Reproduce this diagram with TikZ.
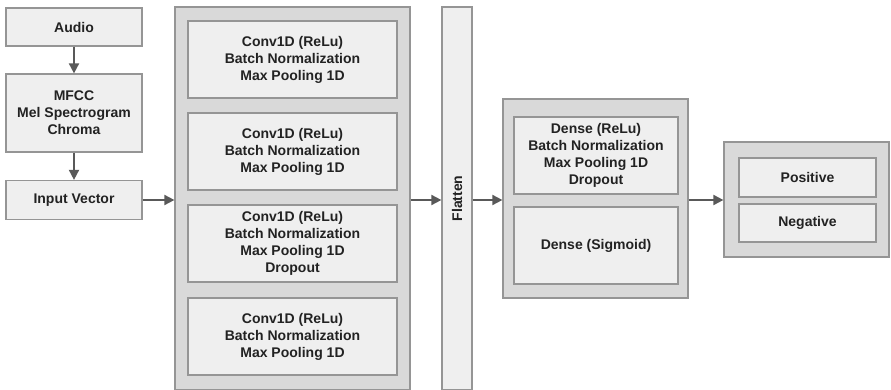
\documentclass[tikz,border=0pt]{standalone}
\usepackage{fontspec}
\setmainfont{Liberation Sans}
\usetikzlibrary{arrows.meta}

\definecolor{boxfill}{HTML}{EFEFEF}
\definecolor{groupfill}{HTML}{D9D9D9}
\definecolor{boxline}{HTML}{959595}
\definecolor{arrowcol}{HTML}{595959}
\definecolor{textcol}{HTML}{222222}

\tikzset{
  layer/.style={draw=boxline, line width=1.2pt, fill=boxfill, inner sep=0pt,
    align=center, text=textcol, font=\fontsize{14}{17}\selectfont\bfseries},
  group/.style={draw=boxline, line width=1.2pt, fill=groupfill, inner sep=0pt},
  flow/.style={-{Triangle[length=10pt,width=10pt]}, draw=arrowcol, line width=1.8pt}
}

\begin{document}
\begin{tikzpicture}[x=1pt,y=-1pt]
  \useasboundingbox (0,0) rectangle (891,390);

  % input features
  \node[layer, minimum width=136pt, minimum height=38pt] (audio) at (74,27) {Audio};
  \node[layer, minimum width=136pt, minimum height=78pt] (feat) at (74,113) {MFCC\\Mel Spectrogram\\Chroma};
  \node[layer, minimum width=136pt, minimum height=39pt] (input) at (74,200) {Input Vector};

  % convolution blocks
  \node[group, minimum width=235pt, minimum height=383pt] (convs) at (292.5,198.5) {};
  \node[layer, minimum width=209pt, minimum height=77pt] (conv1) at (292.5,59.5) {Conv1D (ReLu)\\Batch Normalization\\Max Pooling 1D};
  \node[layer, minimum width=209pt, minimum height=77pt] (conv2) at (292.5,151.5) {Conv1D (ReLu)\\Batch Normalization\\Max Pooling 1D};
  \node[layer, minimum width=209pt, minimum height=77pt] (conv3) at (292.5,243.5) {Conv1D (ReLu)\\Batch Normalization\\Max Pooling 1D\\Dropout};
  \node[layer, minimum width=209pt, minimum height=77pt] (conv4) at (292.5,336.5) {Conv1D (ReLu)\\Batch Normalization\\Max Pooling 1D};

  \node[layer, minimum width=30pt, minimum height=383pt] (flat) at (457,198.5) {};
  \node[rotate=90, text=textcol, font=\fontsize{14}{17}\selectfont\bfseries] (flatlbl) at (flat.center) {Flatten};

  % dense blocks
  \node[group, minimum width=185pt, minimum height=199pt] (dense) at (595.5,198.5) {};
  \node[layer, minimum width=164pt, minimum height=77pt] (dense1) at (596,155.5) {Dense (ReLu)\\Batch Normalization\\Max Pooling 1D\\Dropout};
  \node[layer, minimum width=164pt, minimum height=77pt] (dense2) at (596,245.5) {Dense (Sigmoid)};

  % output classes
  \node[group, minimum width=165pt, minimum height=115pt] (out) at (806.5,199.5) {};
  \node[layer, minimum width=137pt, minimum height=39pt] (pos) at (807.5,177.5) {Positive};
  \node[layer, minimum width=137pt, minimum height=38pt] (neg) at (807.5,223) {Negative};

  \draw[flow] (audio) -- (feat);
  \draw[flow] (feat) -- (input);
  \draw[flow] (input.east) -- (input.east -| convs.west);
  \draw[flow] (convs.east |- input.east) -- (flat.west |- input.east);
  \draw[flow] (flat.east |- input.east) -- (dense.west |- input.east);
  \draw[flow] (dense.east |- input.east) -- (out.west |- input.east);
\end{tikzpicture}
\end{document}
